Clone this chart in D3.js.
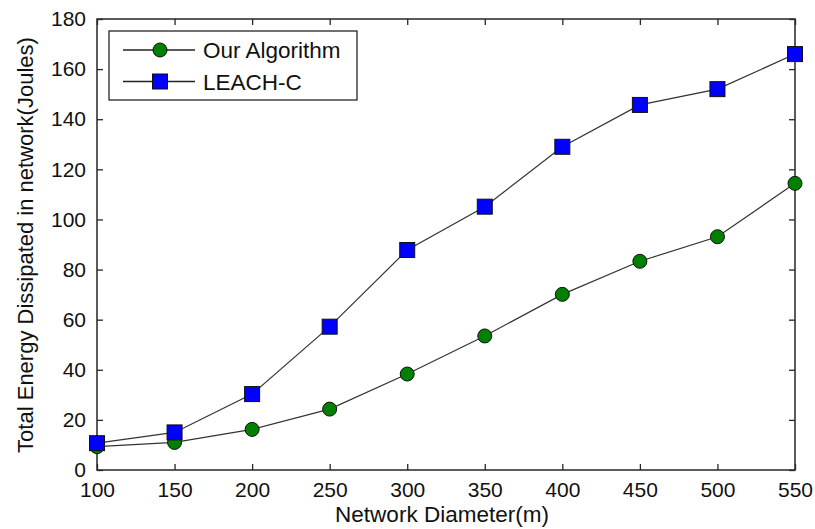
<!DOCTYPE html>
<html><head><meta charset="utf-8">
<script src="https://cdn.jsdelivr.net/npm/d3@7"></script>
<style>body{margin:0;background:#fff;}svg{display:block;font-family:"Liberation Sans",Arial,sans-serif;}</style>
</head><body>
<svg id="c" width="815" height="529"></svg>
<script>
const diameters = [100,150,200,250,300,350,400,450,500,550];
const ourAlgorithm = [9.3,11,16.2,24.3,38.3,53.5,70.1,83.3,93.1,114.4];
const leachC = [10.7,15,30.3,57.2,87.8,105.1,129,145.7,152,166];
const xTicks = [100,150,200,250,300,350,400,450,500,550];
const yTicks = [0,20,40,60,80,100,120,140,160,180];
const seriesNames = ["Our Algorithm","LEACH-C"];

const svg = d3.select("#c");
const L=97,R=795,T=19,B=470;
const x = d3.scaleLinear().domain([100,550]).range([L,R]);
const y = d3.scaleLinear().domain([0,180]).range([B,T]);
const axCol="#262626";

svg.append("rect").attr("x",L).attr("y",T).attr("width",R-L).attr("height",B-T)
  .attr("fill","#fff").attr("stroke",axCol).attr("stroke-width",1.5);

const tl=6;
const fs=21;
const gx = svg.append("g").attr("transform",`translate(0,${B})`)
  .call(d3.axisBottom(x).tickValues(xTicks).tickSizeInner(-tl).tickSizeOuter(0).tickPadding(12).tickFormat(d3.format("d")));
gx.select(".domain").remove();
gx.selectAll("line").attr("stroke",axCol).attr("stroke-width",1.3);
gx.selectAll("text").attr("font-size",fs).attr("fill","#111").attr("font-family","Liberation Sans, Arial, sans-serif");
const gxt = svg.append("g").attr("transform",`translate(0,${T})`)
  .call(d3.axisTop(x).tickValues(xTicks).tickSizeInner(-tl).tickSizeOuter(0).tickFormat(""));
gxt.select(".domain").remove();
gxt.selectAll("line").attr("stroke",axCol).attr("stroke-width",1.3);

const gy = svg.append("g").attr("transform",`translate(${L},0)`)
  .call(d3.axisLeft(y).tickValues(yTicks).tickSizeInner(-tl).tickSizeOuter(0).tickPadding(11).tickFormat(d3.format("d")));
gy.select(".domain").remove();
gy.selectAll("line").attr("stroke",axCol).attr("stroke-width",1.3);
gy.selectAll("text").attr("font-size",fs).attr("fill","#111").attr("font-family","Liberation Sans, Arial, sans-serif");
const gyr = svg.append("g").attr("transform",`translate(${R},0)`)
  .call(d3.axisRight(y).tickValues(yTicks).tickSizeInner(-tl).tickSizeOuter(0).tickFormat(""));
gyr.select(".domain").remove();
gyr.selectAll("line").attr("stroke",axCol).attr("stroke-width",1.3);

svg.append("text").attr("x",(L+R)/2-4).attr("y",522).attr("text-anchor","middle")
  .attr("font-size",22.5).attr("fill","#111").text("Network Diameter(m)");
svg.append("text").attr("transform",`translate(33,245) rotate(-90)`).attr("text-anchor","middle")
  .attr("font-size",22).attr("fill","#111").text("Total Energy Dissipated in network(Joules)");

const line = d3.line().x((d,i)=>x(diameters[i])).y(d=>y(d));
const series=[{vals:ourAlgorithm,color:"#008000",shape:"circle"},{vals:leachC,color:"#0000ff",shape:"square"}];
function marker(g,shape,color,cx,cy){
  if(shape==="circle") g.append("circle").attr("cx",cx).attr("cy",cy).attr("r",7).attr("fill",color).attr("stroke","#111").attr("stroke-width",1);
  else g.append("rect").attr("x",cx-7.5).attr("y",cy-7.5).attr("width",15).attr("height",15).attr("fill",color).attr("stroke","#111").attr("stroke-width",1);
}
series.forEach(s=>{
  svg.append("path").datum(s.vals).attr("d",line).attr("fill","none").attr("stroke","#333").attr("stroke-width",1.2);
});
series.forEach(s=>{
  const g=svg.append("g");
  s.vals.forEach((v,i)=>marker(g,s.shape,s.color,x(diameters[i]),y(v)));
});

const lg=svg.append("g");
lg.append("rect").attr("x",109).attr("y",31).attr("width",248).attr("height",69).attr("fill","#fff").attr("stroke",axCol).attr("stroke-width",1.3);
const rowsY=[50,81.5];
seriesNames.forEach((n,i)=>{
  lg.append("line").attr("x1",123).attr("x2",195).attr("y1",rowsY[i]).attr("y2",rowsY[i]).attr("stroke","#222").attr("stroke-width",1.3);
  marker(lg,series[i].shape,series[i].color,160,rowsY[i]);
  lg.append("text").attr("x",203).attr("y",rowsY[i]+8).attr("font-size",22.5).attr("fill","#111").text(n);
});
</script>
</body></html>
